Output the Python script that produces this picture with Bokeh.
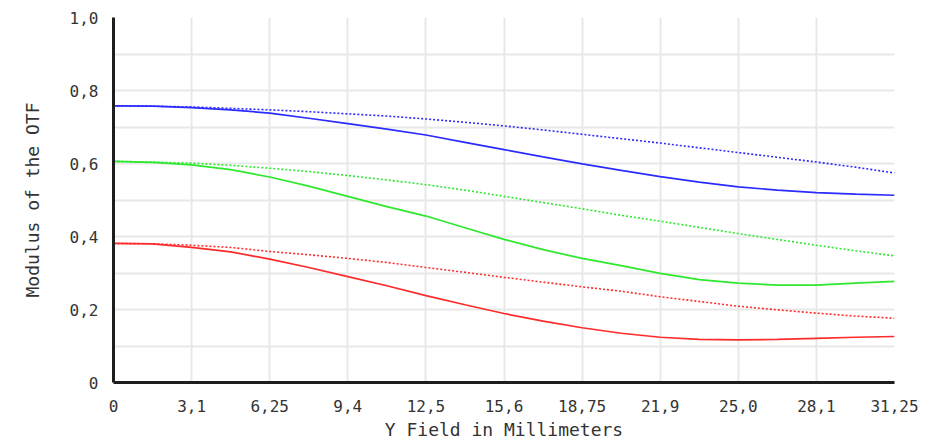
from bokeh.plotting import figure
from bokeh.models import FixedTicker, Range1d
from bokeh.embed import file_html
from bokeh.resources import INLINE

tick_pos = [0.0, 3.125, 6.25, 9.375, 12.5, 15.625, 18.75, 21.875, 25.0, 28.125, 31.25]
x_labels = ["0", "3,1", "6,25", "9,4", "12,5", "15,6", "18,75", "21,9", "25,0", "28,1", "31,25"]
y_ticks = [0.0, 0.2, 0.4, 0.6, 0.8, 1.0]
y_labels = ["0", "0,2", "0,4", "0,6", "0,8", "1,0"]

field = [0.0, 1.5625, 3.125, 4.6875, 6.25, 7.8125, 9.375, 10.9375, 12.5, 14.0625, 15.625,
         17.1875, 18.75, 20.3125, 21.875, 23.4375, 25.0, 26.5625, 28.125, 29.6875, 31.25]

blue_tan = [0.758, 0.757, 0.753, 0.747, 0.738, 0.724, 0.709, 0.694, 0.678, 0.658, 0.638,
            0.618, 0.599, 0.581, 0.564, 0.549, 0.536, 0.527, 0.520, 0.516, 0.513]
blue_sag = [0.758, 0.757, 0.755, 0.751, 0.747, 0.742, 0.736, 0.730, 0.722, 0.713, 0.703,
            0.692, 0.680, 0.668, 0.656, 0.643, 0.630, 0.617, 0.604, 0.590, 0.574]
green_tan = [0.606, 0.603, 0.596, 0.583, 0.563, 0.538, 0.510, 0.482, 0.456, 0.424, 0.392,
             0.364, 0.340, 0.320, 0.299, 0.282, 0.272, 0.267, 0.267, 0.272, 0.277]
green_sag = [0.606, 0.604, 0.601, 0.595, 0.587, 0.578, 0.567, 0.555, 0.542, 0.527, 0.510,
             0.493, 0.476, 0.458, 0.442, 0.425, 0.408, 0.392, 0.376, 0.361, 0.347]
red_tan = [0.381, 0.380, 0.370, 0.358, 0.338, 0.315, 0.290, 0.265, 0.238, 0.213, 0.189,
           0.168, 0.150, 0.135, 0.124, 0.118, 0.117, 0.118, 0.121, 0.124, 0.126]
red_sag = [0.381, 0.380, 0.376, 0.370, 0.359, 0.350, 0.340, 0.329, 0.315, 0.302, 0.288,
           0.275, 0.262, 0.250, 0.235, 0.222, 0.209, 0.199, 0.190, 0.182, 0.176]

p = figure(width=941, height=442, output_backend="svg", toolbar_location=None,
           x_range=Range1d(tick_pos[0], tick_pos[-1]), y_range=Range1d(y_ticks[0], y_ticks[-1]),
           min_border_left=113, min_border_right=47, min_border_top=17, min_border_bottom=58)
p.outline_line_color = None
p.background_fill_color = "white"

p.xaxis.ticker = FixedTicker(ticks=tick_pos)
p.xaxis.major_label_overrides = {v: l for v, l in zip(tick_pos, x_labels)}
p.yaxis.ticker = FixedTicker(ticks=y_ticks, minor_ticks=[0.1, 0.3, 0.5, 0.7, 0.9])
p.yaxis.major_label_overrides = {v: l for v, l in zip(y_ticks, y_labels)}

for ax in (p.xaxis, p.yaxis):
    ax.axis_line_color = "#1e1e1e"
    ax.axis_line_width = 3
    ax.major_tick_line_color = None
    ax.minor_tick_line_color = None
    ax.major_label_text_font = "DejaVu Sans Mono"
    ax.major_label_text_font_size = "16px"
    ax.major_label_text_color = "#333333"
    ax.axis_label_text_font = "DejaVu Sans Mono"
    ax.axis_label_text_font_size = "18px"
    ax.axis_label_text_font_style = "normal"
    ax.axis_label_text_color = "#333333"

p.xaxis.axis_label = "Y Field in Millimeters"
p.yaxis.axis_label = "Modulus of the OTF"
p.xaxis.major_label_standoff = 11
p.xaxis.axis_label_standoff = 4
p.yaxis.major_label_standoff = 9
p.yaxis.axis_label_standoff = 24

p.xgrid.grid_line_color = "#e8e8e8"
p.xgrid.grid_line_width = 2
p.ygrid.grid_line_color = "#e8e8e8"
p.ygrid.grid_line_width = 2
p.ygrid.minor_grid_line_color = "#e8e8e8"
p.ygrid.minor_grid_line_width = 2

series = [
    (blue_sag, "#2b2bff", "2 2"), (blue_tan, "#2b2bff", None),
    (green_sag, "#2ee82e", "2 2"), (green_tan, "#2ee82e", None),
    (red_sag, "#ff2b2b", "2 2"), (red_tan, "#ff2b2b", None),
]
for ys_, col, dash in series:
    if dash:
        p.line(field, ys_, line_color=col, line_width=1.6, line_dash=dash)
    else:
        p.line(field, ys_, line_color=col, line_width=1.7)

open("out.html", "w").write(file_html(p, INLINE))
